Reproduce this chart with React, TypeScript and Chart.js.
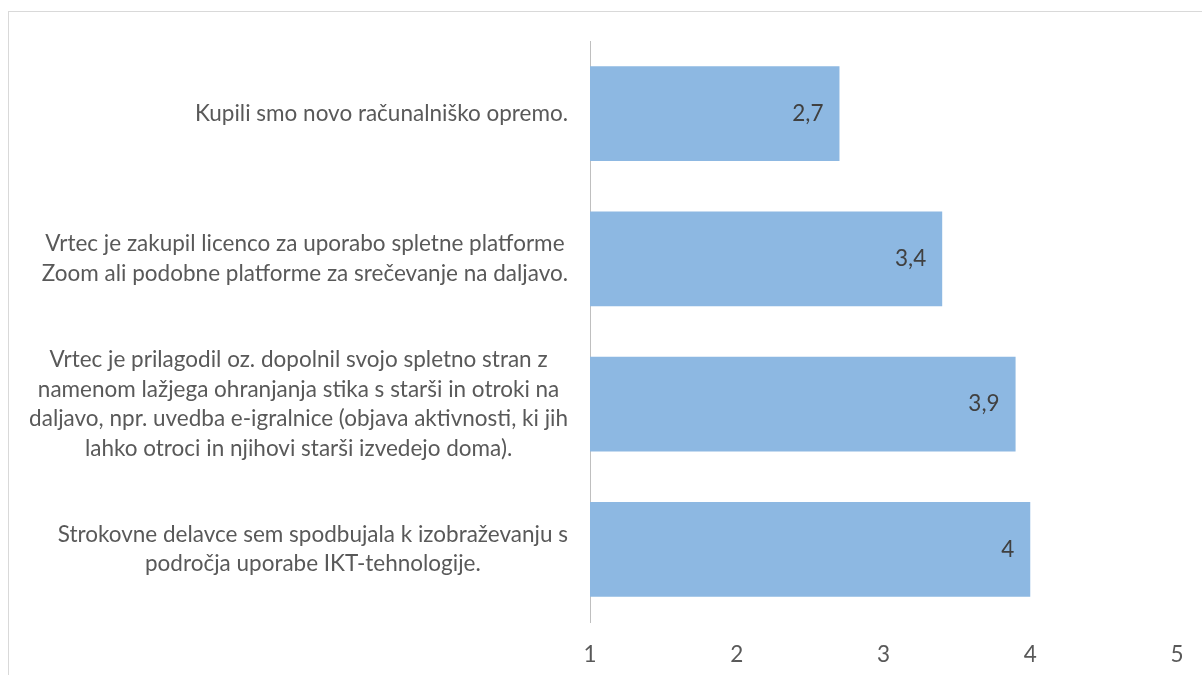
import React, { useEffect, useRef } from "react";
import { Chart, registerables } from "chart.js";

Chart.register(...registerables);

const categories: string[][] = [
  ["Kupili smo novo računalniško opremo."],
  [
    "Vrtec je zakupil licenco za uporabo spletne platforme",
    "Zoom ali podobne platforme za srečevanje na daljavo.",
  ],
  [
    "Vrtec je prilagodil oz. dopolnil svojo spletno stran z",
    "namenom lažjega ohranjanja stika s starši in otroki na",
    "daljavo, npr. uvedba e-igralnice (objava aktivnosti, ki jih",
    "lahko otroci in njihovi starši izvedejo doma).",
  ],
  [
    "Strokovne delavce sem spodbujala k izobraževanju s",
    "področja uporabe IKT-tehnologije.",
  ],
];

const values: number[] = [2.7, 3.4, 3.9, 4];

const xMin = 1;
const xMax = 5;
const xStep = 1;

const FONT_FAMILY = "Lato, 'Open Sans', sans-serif";
const FONT_SIZE = 22.5;
const LINE_HEIGHT = 29.5;
const BAR_COLOR = "#8DB8E2";
const LABEL_COLOR = "#595959";
const VALUE_COLOR = "#404040";

const fmt = (v: number) => String(v).replace(".", ",");

const labelsPlugin = {
  id: "customLabels",
  afterDraw(chart: any) {
    const ctx = chart.ctx as CanvasRenderingContext2D;
    const yScale = chart.scales.y;
    const area = chart.chartArea;
    ctx.save();
    ctx.font = `${FONT_SIZE}px ${FONT_FAMILY}`;
    ctx.textBaseline = "middle";
    ctx.textAlign = "center";
    ctx.fillStyle = LABEL_COLOR;
    categories.forEach((lines, i) => {
      const cy = yScale.getPixelForValue(i);
      const w = Math.max(...lines.map((l) => ctx.measureText(l).width));
      const cx = area.left - 22 - w / 2;
      const n = lines.length;
      lines.forEach((line, j) => {
        ctx.fillText(line, cx, cy + (j - (n - 1) / 2) * LINE_HEIGHT);
      });
    });
    const meta = chart.getDatasetMeta(0);
    ctx.textAlign = "right";
    ctx.fillStyle = VALUE_COLOR;
    meta.data.forEach((bar: any, i: number) => {
      ctx.fillText(fmt(values[i]), bar.x - 16, bar.y);
    });
    ctx.restore();
  },
};

export default function App() {
  const canvasRef = useRef<HTMLCanvasElement | null>(null);

  useEffect(() => {
    if (!canvasRef.current) return;
    const chart = new Chart(canvasRef.current, {
      type: "bar",
      data: {
        labels: categories.map((c) => c.join(" ")),
        datasets: [
          {
            data: values,
            backgroundColor: BAR_COLOR,
            borderWidth: 0,
            barPercentage: 1,
            categoryPercentage: 0.654,
          },
        ],
      },
      options: {
        indexAxis: "y",
        animation: false,
        responsive: false,
        maintainAspectRatio: false,
        layout: { padding: { top: 41, right: 25, left: 0, bottom: 0 } },
        plugins: {
          legend: { display: false },
          tooltip: { enabled: false },
          title: { display: false },
        },
        scales: {
          x: {
            type: "linear",
            min: xMin,
            max: xMax,
            grid: { display: false, drawTicks: false },
            border: { display: false },
            ticks: {
              stepSize: xStep,
              color: LABEL_COLOR,
              padding: 19,
              font: { family: FONT_FAMILY, size: FONT_SIZE },
              maxRotation: 0,
            },
            afterFit: (scale: any) => {
              scale.height = 53;
              scale.paddingLeft = 0;
              scale.paddingRight = 0;
            },
          },
          y: {
            type: "category",
            grid: { display: false, drawTicks: false },
            border: { display: true, color: "#BFBFBF", width: 1 },
            ticks: { display: false },
            afterFit: (scale: any) => {
              scale.width = 590;
              scale.paddingTop = 0;
              scale.paddingBottom = 0;
            },
          },
        },
      },
      plugins: [labelsPlugin],
    });
    return () => chart.destroy();
  }, []);

  return (
    <div
      style={{
        position: "fixed",
        left: 0,
        top: 0,
        width: 1202,
        height: 675,
        overflow: "hidden",
        background: "#ffffff",
      }}
    >
      <div
        style={{
          position: "absolute",
          left: 8,
          top: 11,
          width: 1300,
          height: 800,
          border: "1px solid #D9D9D9",
          boxSizing: "border-box",
        }}
      />
      <canvas
        ref={canvasRef}
        width={1202}
        height={675}
        style={{ position: "absolute", left: 0, top: 0, width: 1202, height: 675 }}
      />
    </div>
  );
}
